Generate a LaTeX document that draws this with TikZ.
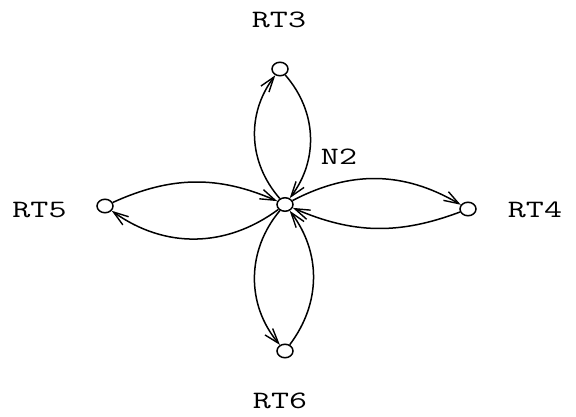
\documentclass[tikz,border=0pt]{standalone}
\usetikzlibrary{arrows.meta,shapes.geometric}
\begin{document}
\begin{tikzpicture}[x=1pt,y=-1pt,
  vtx/.style={ellipse,draw,line width=1.5pt,minimum width=16pt,minimum height=13.5pt,inner sep=0pt},
  lbl/.style={inner sep=0pt,font=\ttfamily\fontsize{25}{28}\selectfont,xscale=1.4},
  arc/.style={line width=1.5pt,-{Straight Barb[length=15pt,width=10pt,line width=1.4pt]}}]
\useasboundingbox (0,0) rectangle (576,417);
\node[vtx] (N2) at (285,204.5) {};
\node[vtx] (RT3) at (280,69) {};
\node[vtx] (RT5) at (105,206) {};
\node[vtx] (RT4) at (468,209) {};
\node[vtx] (RT6) at (285,351) {};
\node[lbl] (lN2) at (339,157) {N2};
\node[lbl] (lRT3) at (279,19.5) {RT3};
\node[lbl] (lRT5) at (39.5,210) {RT5};
\node[lbl] (lRT4) at (535,209.5) {RT4};
\node[lbl] (lRT6) at (280,400.5) {RT6};
\draw[arc] (N2) to[bend left=39] (RT3);
\draw[arc] (RT3) to[bend left=39] (N2);
\draw[arc] (RT5) to[bend left=24] (N2);
\draw[arc] (N2) to[bend left=36] (RT5);
\draw[arc] (N2) to[bend left=29] (RT4);
\draw[arc] (RT4) to[bend left=22] (N2);
\draw[arc] (N2) to[bend right=40] (RT6);
\draw[arc] (RT6) to[bend right=37] (N2);
\end{tikzpicture}
\end{document}
